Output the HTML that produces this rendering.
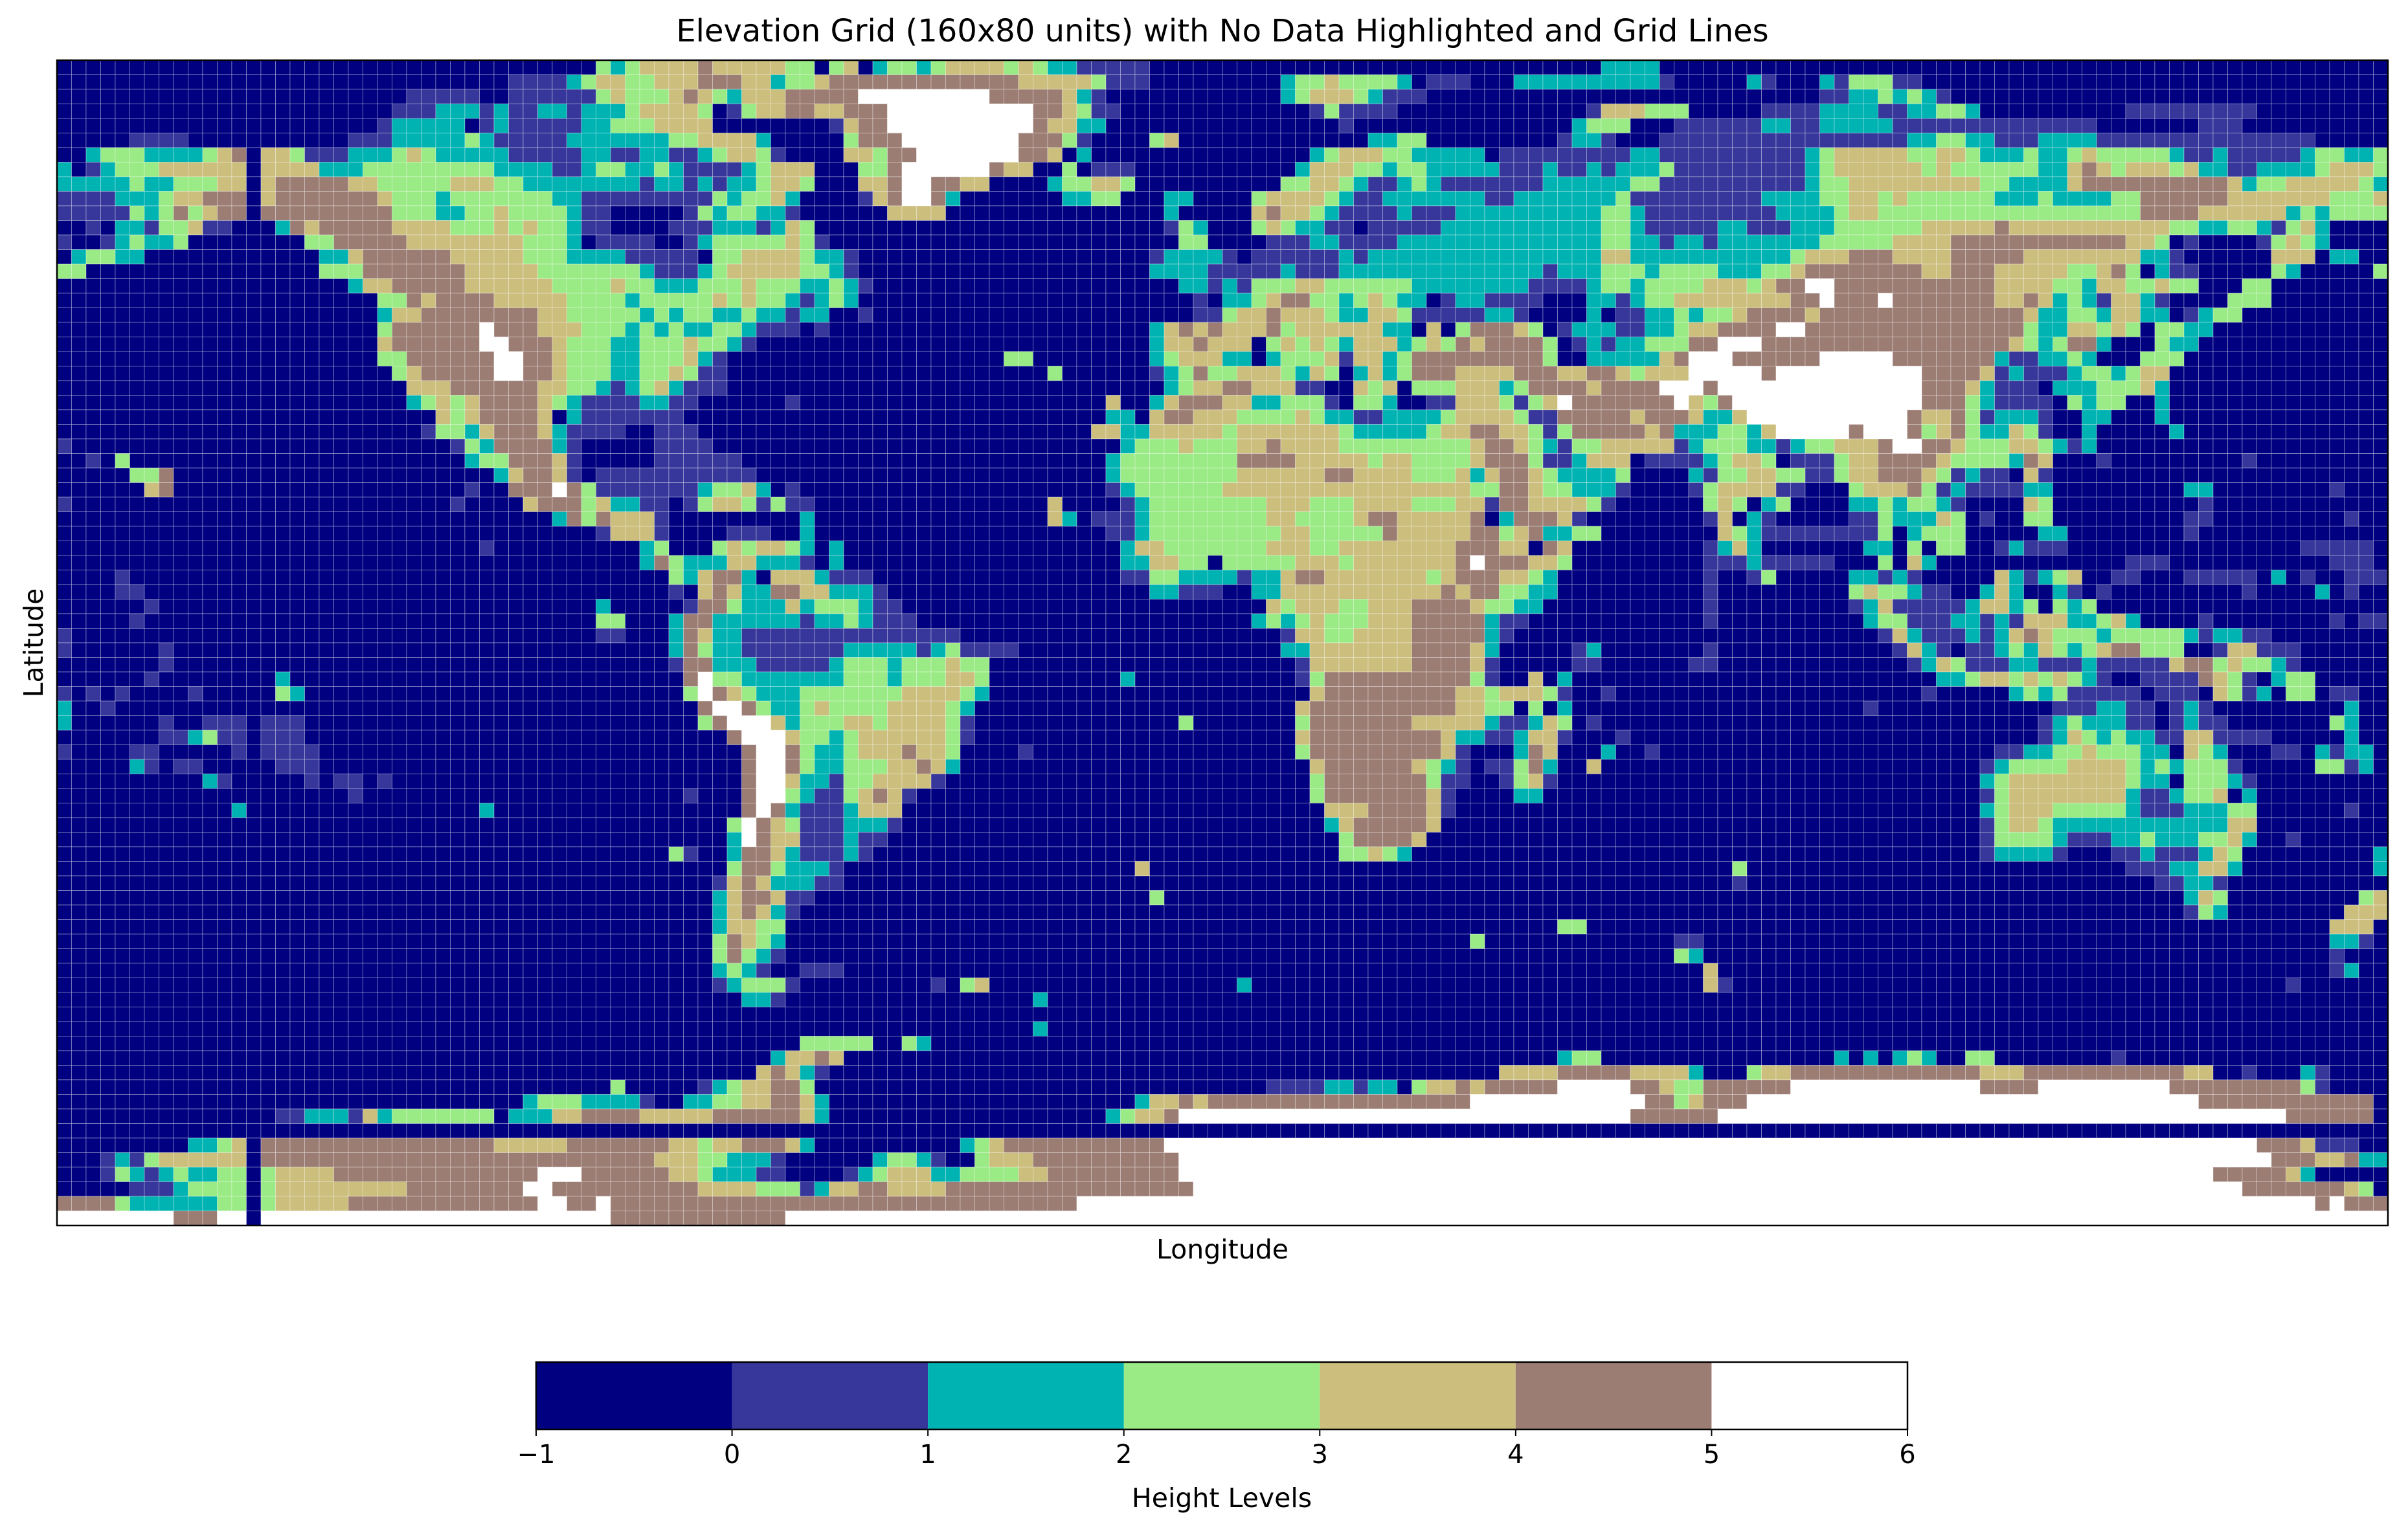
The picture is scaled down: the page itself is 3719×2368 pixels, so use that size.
<!DOCTYPE html>
<html><head><meta charset="utf-8"><title>Elevation Grid</title>
<style>html,body{margin:0;padding:0;background:#fff;}svg{display:block;}text{font-family:"DejaVu Sans","Liberation Sans",sans-serif;fill:#000;}</style>
</head><body>
<svg id="chart" width="3719" height="2368" viewBox="0 0 3719 2368" xmlns="http://www.w3.org/2000/svg">
<rect width="3719" height="2368" fill="#fff"/>
<text x="1888" y="64" font-size="48" text-anchor="middle">Elevation Grid (160x80 units) with No Data Highlighted and Grid Lines</text>
<g id="cells"></g>
<rect x="88" y="93" width="3600" height="1800" fill="none" stroke="#000" stroke-width="2.5"/>
<text x="1888" y="1944" font-size="41" text-anchor="middle">Longitude</text>
<text x="0" y="0" font-size="41" text-anchor="middle" transform="translate(66,993) rotate(-90)">Latitude</text>
<g id="cbar"></g>
<text x="1887" y="2328" font-size="41" text-anchor="middle">Height Levels</text>
</svg>
<script>
const levelColors = ["#000080","#37379b","#00b3b3","#9aeb85","#ccbe7d","#9c7d74","#ffffff"];
const levelCodes = "NSTGABW";
const cbarTicks = ["\u22121","0","1","2","3","4","5","6"];
const nCols = 160, nRows = 80;
const leftTop = [
"37G 38T 39G 40-43A 44B 45-49A 50-51G 53G 54A 56T 57-58G 59T 60G 61-64A 65G 66A 67G 68-69T 70-74S",
"31-34S 35T 36G 37-38A 39-40G 41-43A 44-46B 47-48A 49T 50-51G 52A 53-65B 66-70A 71G 72-74S",
"24-28S 31-36S 37G 38A 39-41G 42A 43B 44A 45G 46T 47-49A 50-54B 55-63W 64-68B 69A 70T 71S",
"23-25S 26-28T 29S 30T 31-32S 33-34T 35S 36-38T 39G 40-43A 44G 46S 47G 48-49A 50-51B 52-53A 54-56B 57-66W 67-68B 69A 70G 71-72S",
"22S 23-27T 29S 30T 31-35S 36-37T 38-40G 41-44A 53S 54A 55-56B 57-66W 67B 68-69A 70-71T",
"5-8S 20-22S 23-27T 28G 29T 30-34S 35-41T 42-43G 44-47A 48T 54G 55-57B 58-65W 66-68B 69G 70S 75G 76A",
"2T 3-5G 6-9T 10G 11A 12B 14-15A 16G 17-19S 20-22T 23G 24A 25G 26-30T 31-35S 36-37T 38-39S 40-41T 42-43S 44T 45G 46-47A 48G 49S 54-55A 56G 57-58B 59-65W 66-67B 68A 70T",
"0T 2S 3T 4-6G 7-12A 14-17A 18-20T 21-29G 30-33T 34-35S 36T 37-38G 39-40T 41G 42T 43-46S 47T 48G 49-51A 55-56G 57B 58-63W 64B 65-66A 69G 71-73S",
"0-4T 5G 6-7T 8-10G 11-12A 14A 15-19B 20-21A 22-26G 27-29A 30-31G 32-39T 40S 41-42T 43S 44T 45S 46-47T 48G 49-50A 51G 55-56A 57B 58-59W 60-61B 62-63A 68T 69-70G 71-72A 73G",
"0-3S 4-6T 7G 8-9A 10-12B 14A 15-21B 22A 23-25G 26T 27-33G 34-35T 36-44S 45G 46T 47-48G 49A 50T 55S 56A 57B 58-59W 60B 61T 69-70T 71-72G 76-77T",
"0-4S 5G 6T 7G 8B 9G 10A 11-12B 14-22B 23-25G 26-27T 28-29G 30A 31-34G 35T 36-37S 43S 44G 45T 46-47G 48-49T 50S 57-60A 76T",
"2S 4-5T 6S 7-8G 9A 10-11S 15T 16B 17A 18-22B 23-26A 27-29G 30A 31G 32A 33-34G 35T 36-37S 42-44S 45-47T 48S 49T 50A 51G 76S 77G 78T",
"0S 3S 4T 5G 6-7T 8G 17-18G 19-23B 24-31A 32-34G 35T 37-40S 43S 44T 45-49G 50A 51G 52S 77-78G",
"1T 2-3G 4-5T 18-19T 20A 21-26B 27-31A 32-34G 35-38T 39-43S 45-46G 47-50A 51G 52-53T 54S 75S 76-79T",
"0-1G 18-20G 21-27B 28-32A 33-39G 40T 41-43S 44T 45G 46-50A 51-52G 53T 54S 75-78T 79S",
"20T 21-22A 23-27B 28-33A 34-37G 38A 39-40G 41-43T 44-46G 47A 48-50G 51-52T 53G 54T 55S 77-78T 79S",
"22-23G 24B 25A 26-29B 30-34A 35-38G 39T 40-44G 45A 46G 47A 48-49G 50T 51S 52T 53G 54T 78S",
"22T 23-24A 25-32B 33-34A 35-39G 40T 41G 42T 43-44G 45-46T 47G 48-49T 50S 51-52T 55S 78-79S",
"22G 23-28B 29W 30-32B 33-35A 36-38G 39T 40G 41T 42G 43-44T 45-46G 47T 48-50S 52S 75T 76A 77B 78A 79B",
"22A 23-28B 29-30W 31-33B 34A 35-37G 38-39T 40-42G 43A 44-45G 46T 47S 75T 76-77A 78B 79A",
"22-23G 24-29B 30-31W 32-33B 34A 35-37G 38-39T 40-42G 43A 44T 45S 65-66G 75T 76G 77-79A",
"23G 24A 25-29B 30-31W 32-33B 34A 35-37G 38-39T 40-41G 42A 43G 44-45S 68G 75S 76T 77G 78B 79G",
"24-26A 27-32B 33-34A 35-36G 37T 38S 39T 40G 41A 42T 43-45S 76T 77G 78-79A",
"24T 25G 26A 27G 28A 29-32B 33A 34G 35T 36-39S 40-41T 42-43S 50S 72A 75T 76A 77-79B",
"26A 27G 28A 29-32B 33A 35T 36-42S 72-73T 75A 76-77B 78-79A",
"25S 26-27G 28T 29A 30-32B 33A 34T 35-38S 41-43S 71-72A 73-74T 75-79A",
"0S 27S 28G 29T 30-33B 34T 35S 41-44S 73T 74-76G 77A 78-79G",
"2S 4G 28T 29-30G 31-33B 34A 35S 41-46S 72T 73-79G",
"5-6G 7B 30T 31A 32-33B 34A 35S 37-47S 72T 73-79G",
"6A 7B 28S 31-33B 34W 35B 36G 37-43S 44T 45-46G 47A 48T 50S 72S 73T 74-79G",
"0S 27S 32A 33-35B 36G 37A 38-39T 40-41S 43S 44G 45-46A 47G 48S 49G 50-51S 68A 73S 74T 75-79G",
"34T 35B 36G 37B 38-40A 41S 51T 68A 69T 71-73S 74T 75-79G",
"37S 38-40A 41S 46-48S 51T 72-73S 74T 75-79G",
"29S 40T 41G 45G 46A 47G 48-49A 50G 51T 53T 73T 74-75A 76-79G",
"40T 41B 42G 43-45T 46-47A 48-50T 51S 53T 73-74T 75-76A 77-78G"
];
const rightTop = [
"26-29T",
"4T 5-6G 7A 8-11G 12T 14-16S 20-29T 30S 36T 37S 41T 42S 43-45G 46-47S",
"4T 5G 6-8A 9G 10T 11-13S 41-42S 43-44T 45G 46T 47G 48T 49S",
"6S 7G 8-11S 25S 26-28A 29-31G 37-40S 41-44T 45-46S 47-48T 49-50G 51T 62-70S",
"8S 24T 25-27G 31-36S 37-38T 39-40S 41-45T 46-59S 67-69S",
"10-11T 12-13G 23S 24-25T 26S 30-46S 47-48T 49-50G 51-52T 53-55S 56-59T 60-74S",
"6T 7G 8-10A 11-12G 13-17T 19-27S 28-29T 30-39S 40T 41G 42-46A 47-48G 49-50A 51G 52-54T 55G 56-57T 58G 59A 60-64G 65T 66-67S 68T 69-73S 74T 75-76G 77-78T 79G",
"5T 6-8A 9-10G 11T 12-13G 14-18T 19-21S 22T 23-24S 25T 26S 27-29T 30G 31-39S 40T 41G 42-47A 48G 49A 50-55G 56-57T 58A 59B 60A 61G 62-64A 65G 66A 67-68T 69-70S 71-74T 75G 76-78A 79G",
"4-5G 6-7A 8G 9T 10-11S 12T 13G 14T 15-21S 22-27T 28-29G 30-39S 40T 41-42G 43-51A 52-53G 54-57T 58A 59-68B 69A 70T 71-72G 73-77A 78G 79T",
"2G 3-6A 7G 8T 9-10S 11-17T 18-19S 20-26T 27G 28-36S 37-40T 41-42G 43-44A 45G 46A 47-52G 53-55T 56G 57-60T 61-62G 63-68B 69-75A 76-78G 79A",
"2A 3B 4-5A 6G 7T 8-11S 12T 13-15S 16-25T 26-27G 28T 29-37S 38-41T 42G 43-44A 45-62G 63-66B 67-72A 73T 74G 75T 76-79G",
"2G 3A 4G 5-6T 7-8S 10-14S 15-25T 26-27G 28T 29-33S 34-35T 36-38S 39-41T 42-47G 48-52A 53B 54-64A 65-66G 67-68T 69-70G 71T 72S 73G 74A 75T",
"3-5S 6-7T 8-11S 12-25T 26-27G 28-29T 30S 31-32T 33S 34-40T 41-45G 46-49A 50-61B 62-63A 64G 66S 71S 72G 73A 74G 75T",
"0S 2-7S 8T 9S 10-25T 26-27A 28-38T 39G 40-42A 43-45B 46-49A 50-54B 55-62A 63-64T 65S 72-74A 76-77T",
"0-3S 4T 5-7S 8-21T 22S 23-25T 26-28G 29T 30-33G 34-36T 37-38G 39A 40-47B 48-49A 50-52B 53-57A 58-59G 60A 61B 62G 64T 65-66S 72G 73T 79G",
"0T 1S 2-4G 5-6A 7-12G 13-20T 21-24S 25T 26-27G 28T 29-32G 33-35A 36G 37A 38-39B 40-41W 42-52B 53-56A 57-58G 59T 60-61A 62-63G 64A 65-66G 70-71G",
"0-1T 2G 3A 4-5B 6-7G 8T 9G 10A 11G 12-13T 15S 16-17T 18-21S 25-26T 27S 28T 29-30G 31-38A 39-40B 41W 42-44B 45W 46-52B 53-54A 55B 56A 57T 58G 59T 60S 61-62A 63T 64S 69-71G",
"0G 1-2A 3B 4-6A 7G 8-9T 10-11A 12G 13-17S 18-19T 20S 25T 27-28S 29-30T 31G 32T 33-34G 35A 36-39B 40A 41-54B 55A 56-57T 58-59G 60T 61-62A 63-64T 66S 67T 68-69G",
"0-2A 3B 4G 5-10A 11-12T 14A 16G 17-19B 20A 21G 23S 24-26T 27-28S 29-30T 31G 32-33A 34-37B 38-39W 40-54B 55G 56-57T 58-59A 60G 61A 62G 64-65G 66-67T",
"0-1A 3G 4A 5G 6A 7G 8T 9-11A 12T 13G 14A 15G 16B 17A 18-21B 22G 24S 25T 26S 27-28T 29-31G 32-33B 34-36W 37-53B 54A 55G 56T 57G 58-59B 60T 64G 65-66T",
"0-1T 3T 4-6G 7A 8S 9-10A 11T 12G 13-21B 22G 25-29T 30A 31B 32-34W 35-40B 41-45W 46-52B 53T 54-55S 56-57T 58G 59T 63-65G",
"0G 1-3A 4G 5T 6A 7G 9T 10A 11T 12G 13-15B 16-19A 20-22B 23-24A 25-26B 27A 28G 29-31A 32-36W 37B 38-47W 48-51B 52A 53S 54T 55-57S 58T 59-60G 61T 62G 63-64A",
"0-1B 2-4A 5-6S 9A 10G 11A 13-15G 16-18A 19T 20G 21-24B 25A 26-29B 30-32W 33B 34-47W 48-50B 51A 52T 53-55S 57-59T 60-62G 63A 64T",
"0-1A 2-3T 4-6G 7S 9-10G 11T 14-15S 16-18A 19G 20S 21G 22A 23W 24-30B 31W 32A 33G 34B 35-47W 48-50B 51G 52T 53-56S 58G 59T 60-61G 64T",
"0A 1-4G 5A 6G 7-8T 9-10S 11-14T 15G 16-19A 20G 21-22S 23-27B 28A 29-31B 32A 33-34T 35A 36-46W 47B 48-49A 50B 51G 52S 53-55T 56S 59-60T 64T",
"0G 1-7A 8G 9-13T 14G 15-16A 17-18B 19-20A 21G 22S 23G 24-28B 29A 30B 31-33T 34-35G 36T 37A 38-42W 43B 44-46W 47B 48G 49A 50B 51G 52-53T 54A 55G 56S 59T 65T",
"0G 1-2A 3B 4-7A 8-16G 17A 18-19B 20A 21G 22T 23S 24-25G 26-30A 31S 32T 33-35G 36-37T 38S 39T 40-41G 42-44A 45B 46-47W 48-49B 50A 51-53G 54-55A 56G 57T 58S 59T",
"0G 1-4B 5-9A 10G 11-12A 13-16G 17A 18-20B 21G 22-23S 24T 25-27A 29-32S 33T 34G 35-36A 37G 39-41S 42G 43-44A 45-48B 49A 50-53G 54T 55B 56A 60S 70S",
"0G 1-6A 7-8B 9-12A 13-15G 16A 17T 18A 19-20B 21A 22G 23-26T 27G 32T 33S 34-35G 36-37A 38-39G 40-41S 42G 43-44A 45-47B 48A 49G 50S 51T 52-53S 55A 56S",
"0-16A 17-18G 19-20B 21A 22-23G 24-26T 27S 32S 33G 34-37A 38-39S 43G 44-46A 47B 48G 49S 50T 51-54S 55-56T 66-67T 76S",
"0-2G 3-5A 6-8G 9-12A 13-15G 16-17A 18S 19-20B 21-24A 25G 26S 33G 34A 35G 37T 38G 43-44T 45G 46T 47-48G 49T 50S 55A 56G 67S",
"0-2G 3-4A 5-8G 9A 10-11B 12-16A 17B 19T 20-22B 23A 24S 33S 34A 36T 37S 43-44S 45G 46-48T 49A 50G 52S 55-56G 66-67S 77S",
"0-3G 4-5A 6-10G 11B 12-16A 17-18B 19G 20A 21B 22-23T 24-25G 34A 35G 36T 37-44S 45G 47T 48-50G 56-57T 66S",
"0-2G 3-5A 6-7G 8-15A 16-18B 19-20A 22B 23A 33S 34T 35A 36T 44-45T 47G 49-50G 53S 54T 55-57S 74-78S",
"0-4G 5-7A 8G 9-15A 16B 17W 18-20B 21-22A 23G 33-35S 36T 37-41S 45G 47A 48T 62-64S 76-78S"
];
const leftBottom = [
"4S 42G 43T 44A 45-46B 47T 49-51A 52T 53-55S 73-74S 75-76G 77-79T",
"4-5S 42S 44A 45B 46A 47-48T 49-50B 51-52A 53-55T 56S 75-76T 77-79S",
"6S 37T 43S 44-45B 46G 47-49T 50A 51T 52-54G 55T 56-57S",
"5S 37-38G 42T 43-44B 45-50T 51S 52-53T 54G 55T 56-58S",
"0S 37-38S 42T 43B 44A 45-46T 47-61S",
"0S 7S 42T 43B 44G 45-46T 47-53S 54-58T 59S 60T 61G 62-65S",
"7S 42S 43-44B 45-47T 48-52S 53T 54-56G 57T 58-60G 61A 62-63G",
"6S 15T 43B 44W 45-46G 47-53T 54-56G 57T 58-60G 61-62A 63G 73T",
"0S 2S 4S 9S 15G 16T 43G 44W 45B 46A 47G 48-50T 51-57G 58-61A 62G 63T",
"0T 3S 44B 45-46W 47B 48G 49-50T 51G 52A 53-56G 57-60A 61G 62T",
"0T 7S 10-12S 14-16S 44G 45B 46-48W 49A 50T 51-53G 54-55A 56G 57-60A 61G 62S 77G",
"7-8S 9T 10G 11-12S 14-16S 46B 47-49W 50A 51-52G 53T 54G 55-60A 61G 62S",
"0S 5-6S 12S 14-17S 47B 48-49W 50B 51G 52-53T 54G 55-57A 58B 59-60A 61G 66S",
"5T 6S 8-9S 15-17S 47B 48-49W 50B 51G 52-53T 54-56G 57-58A 59B 60A 61T",
"10T 11S 17S 19-20S 22S 47B 48-49W 50A 51-52T 53S 54-55G 56-59A 60S",
"20S 43S 47B 48-49W 50G 51T 52-53S 54G 55A 56B 57A 58S",
"12T 29T 47B 48W 49B 50T 51-53S 54T 55-57A",
"46G 47W 48B 49A 50G 51-53S 54-56T 57S",
"46T 47W 48B 49-50A 51-53S 54T 55-56S",
"42G 43S 46T 47-48B 49A 50T 51-53S 54T 55S",
"46G 47-48B 49G 50-52T 53S 74A",
"45S 46A 47B 48A 49-51T 52-53S",
"45T 46A 47-48B 49A 50-51S 75G",
"45T 46A 47B 48A 49T 50S",
"45T 46-47A 48-49G",
"45G 46B 47A 48G 49T",
"45G 46B 47G 48T 49S",
"45T 46G 47T 48S 51-53S",
"45S 46T 47-49G 50S 60S 62G 63A",
"47-48T 49S 67T",
"",
"67T",
"51-55G 58G 59T",
"49T 50-51A 52B 53A"
];
const rightBottom = [
"0T 1S 2-3T 4A 5-6B 7-13A 14G 15A 16-18B 19-20A 21G 22T 33S 36S 37G 43-44T 45S 46T 47S 53A 54T 55S 56T 57G 58A 61-62S 66-70S 72T 74S 77-79S",
"2-3T 4-14A 15B 16A 17-18B 19-20G 21-22T 33S 43G 44A 45-46G 47T 48-49S 52T 53A 54T 57T 58S 60S 70S 75T 77S",
"3A 4G 5-7A 8-9G 10-12A 13-16B 17A 18-19G 20-21T 33S 43S 44T 45A 46-50S 51T 52-53A 54T 55G 57G 58T 59G",
"2T 3G 4T 5G 6A 7-9G 10-12A 13-17B 18T 19-20S 33S 44T 45-46G 47-49S 50-51T 52S 53T 54S 55-57A 58-59T 60G 61A 62T 67S 76S 78-79S",
"4S 5-6A 7-8G 9-12A 13-17B 18T 19S 45S 46A 47T 48-50S 51T 52S 53T 54A 55B 56A 57-59G 60T 61-65G 66T 67S 68-69T 70-71S",
"4-5T 6-12A 13-16B 17A 18T 24S 25T 33S 46S 47A 48T 49S 51-52S 53T 54G 55T 56A 57G 58T 59G 60A 61-62B 63-65G 68S 69-70A 71-73S",
"5S 6-12A 13-16B 17A 18S 24-25S 32-33S 47S 48T 49A 50G 51-53S 54-55T 56-58S 59T 60-64S 65A 66-67B 68G 69A 70-71G 72T 73S",
"5S 6G 7-16B 17G 18S 21A 23T 49-50T 51G 52-53A 54G 55A 56G 57A 58G 59T 60S 63-66S 67B 68A 69G 70S 72T 73-74G",
"6A 7-15B 16-17A 18G 19-21A 22G 23S 26S 48S 54T 55G 56T 57G 58-62S 64-66S 68A 69G 70S 71T 73-74G 76-77S",
"5A 6-15B 16-17A 18-19G 21G 23T 44S 57-59S 60-61T 62-63S 65S 66T 67S 77T",
"5G 6-12B 13-17A 18T 19-20S 21T 22A 23G 25S 56S 57T 58G 59-61T 62-63S 65S 66T 67-68S 76G 77T",
"5A 6-14B 15A 16-17T 18-19S 20T 21-22A 23S 27S 56S 57T 58A 59G 60T 61G 62-63T 64-65S 66-67A 68-71S 77T",
"5G 6-14B 15A 16S 20T 21B 22A 26T 29S 53-54S 55-56T 57-58G 59A 60-62G 63-64T 66A 67G 68T 72-73S 75T 76S 77-78T",
"6A 7-12B 13A 14G 15T 16S 18-19S 20G 21B 22T 25A 52S 53T 54-57G 58-61A 62G 63T 64G 65T 66-68G 69S 75-76G 77S 78T",
"6G 7-13B 14G 15-16S 19S 20G 21A 22S 52T 53G 54-61A 62G 63-64T 66-68G 69T 70S",
"6G 7-13B 14A 15S 20-21T 52S 53G 54-61A 62T 63-64S 65T 66-67G 68A 70T",
"7-9A 10-13B 14A 15S 52T 53G 54-56A 57-61G 62T 63-65S 66-68T 69-70G 77S",
"7T 8A 9-13B 14A 52S 53G 54-55A 56G 57-68T 69-70A",
"8G 9-12B 13A 52S 53-56G 57T 58-60S 61-62T 63G 64-66T 67-68G 69A 70T 73S",
"8-9G 10A 11G 12T 52S 53-56T 57S 61-62S 63T 64-66S 67T 68A 69G 79T",
"35G 62-64S 65-66T 67-68A 69T 79T",
"35S 64-65S 66-67T 68S",
"66T 67A 68G 78G 79A",
"66S 67G 68T 77-79A",
"23-24G 76-78A",
"17G 31-32S 76-77T 78S",
"31G 32T 76S",
"33A 76S 77T",
"1T 33A 34S 73S",
"",
"",
"",
"",
"23T 24-25G 42T 44T 46T 47G 48T 51-52G 61S"
];
const southRows = [
"48A 49B 50A 51T 52S 99-102A 103-107B 108-111A 112T 116G 117-118A 119-131B 132-134A 135-145B 146-147A 150S 154T 155S",
"38G 44S 45T 46G 47-48A 49-50B 51G 83-86S 87-88T 89S 90-91T 93G 94-95A 96B 97A 98-102B 103-107W 108-109B 110A 111-112G 113-118B 119-131W 132-135B 136-144W 145-153B 154G 155S",
"32T 33-35G 36-39T 40S 43-44T 45-46G 47-48A 49-50B 51A 52T 74T 75-76A 77B 78A 79-96B 97-108W 109-110B 111G 112A 113-115B 116-146W 147-158B",
"15-16S 17-19T 20S 21A 22T 23-29G 31-33T 34-35A 36-39B 40-44A 45-50B 51A 52T 72T 73G 74-75A 76B 77-107W 108-113B 114-152W 153-158B",
"",
"9-10T 11G 12A 14-29B 30-34A 35-41B 42-43A 44G 45-46A 47-49B 50A 51T 62T 63G 64A 65-75B 76-150W 151-153B 154A 155-157S",
"3S 4T 5S 6G 7-12A 14-40B 41-43A 44-45G 46-48T 49S 56T 57-58G 59T 60S 63G 64-66A 67-76B 77-151W 152-154B 155-156A 157B 158-159T",
"3S 4G 5T 6S 7T 8G 9-10T 11-12G 14G 15-18A 19-32B 33-35W 36-41B 42-43A 44G 45-47T 48-49S 54S 55T 56G 57-59A 60-61T 62-65G 66-67A 68-76B 77-147W 148-152B 153A 154T",
"5-7S 8T 9-12G 14G 15-23A 24-31B 32-33W 34-43B 44-47A 48-50G 51S 52T 53-54A 55-56B 57-60A 61-77B 78-149W 150-156B 157A 158G",
"0-3B 4G 5-10T 11-12G 14G 15-19A 20-32B 33-34W 35-36B 37W 38-69B 70-154W 155B 156W 157-159B",
"0-7W 8-10B 11-12W 14-37W 38-49B 50-159W"
];

function parseRow(str, offset, row){
  const re = /(\d+)(?:-(\d+))?([NSTGABW])/g; let m;
  while((m = re.exec(str))){
    const a = +m[1] + offset, b = (m[2] ? +m[2] : +m[1]) + offset;
    const v = levelCodes.indexOf(m[3]);
    for(let c=a;c<=b && c<nCols;c++) row[c]=v;
  }
}
const grid = [];
for(let r=0;r<nRows;r++){
  const row = new Array(nCols).fill(0);
  if(r<35){ parseRow(leftTop[r]||"",0,row); parseRow(rightTop[r]||"",80,row); }
  else if(r<69){ parseRow(leftBottom[r-35]||"",0,row); parseRow(rightBottom[r-35]||"",80,row); }
  else { parseRow(southRows[r-69]||"",0,row); }
  grid.push(row);
}
const X0=88, Y0=93, PW=3600, PH=1800;
const xScale = c => X0 + c*PW/nCols;
const yScale = r => Y0 + r*PH/nRows;
const NS="http://www.w3.org/2000/svg";
const g = document.getElementById('cells');
let html = "";
const cw = PW/nCols, ch = PH/nRows;
for(let r=0;r<nRows;r++){
  for(let c=0;c<nCols;c++){
    html += '<rect x="'+xScale(c)+'" y="'+yScale(r)+'" width="'+cw+'" height="'+ch+'" fill="'+levelColors[grid[r][c]]+'" stroke="rgba(255,255,255,0.35)" stroke-width="1"/>';
  }
}
g.innerHTML = html;

const cb = document.getElementById('cbar');
const CBX0=828, CBX1=2946, CBY=2104, CBH=104;
const cbScale = v => CBX0 + (v+1)*(CBX1-CBX0)/7;
levelColors.forEach((col,i)=>{
  const rct = document.createElementNS(NS,'rect');
  rct.setAttribute('x', cbScale(i-1)); rct.setAttribute('y', CBY);
  rct.setAttribute('width', cbScale(i)-cbScale(i-1)); rct.setAttribute('height', CBH);
  rct.setAttribute('fill', col);
  
  
  cb.appendChild(rct);
});
const frame = document.createElementNS(NS,'rect');
frame.setAttribute('x',CBX0); frame.setAttribute('y',CBY); frame.setAttribute('width',CBX1-CBX0); frame.setAttribute('height',CBH);
frame.setAttribute('fill','none'); frame.setAttribute('stroke','#000'); frame.setAttribute('stroke-width','2.5');


cb.appendChild(frame);
cbarTicks.forEach((t,i)=>{
  const x = cbScale(i-1);
  const ln = document.createElementNS(NS,'line');
  ln.setAttribute('x1',x); ln.setAttribute('x2',x); ln.setAttribute('y1',CBY+CBH); ln.setAttribute('y2',CBY+CBH+10);
  ln.setAttribute('stroke','#000'); ln.setAttribute('stroke-width','2');
  
  
  cb.appendChild(ln);
  const tx = document.createElementNS(NS,'text');
  tx.setAttribute('x',x); tx.setAttribute('y',CBY+CBH+52); tx.setAttribute('font-size','40'); tx.setAttribute('text-anchor','middle');
  tx.textContent = t;
  
  
  cb.appendChild(tx);
});
</script>
</body></html>
